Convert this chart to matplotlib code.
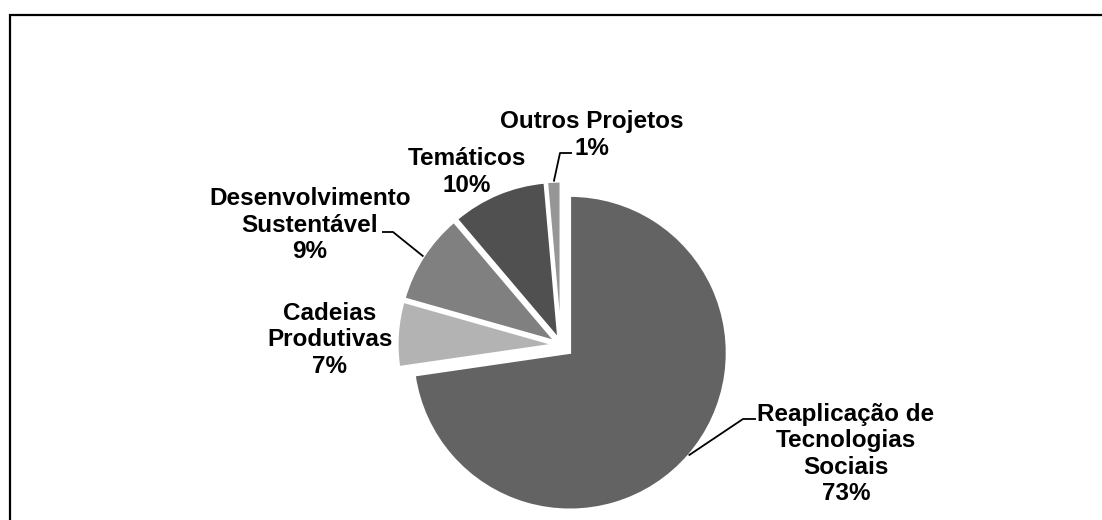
import numpy as np
import matplotlib
matplotlib.use("Agg")
import matplotlib.pyplot as plt
from matplotlib.patches import Rectangle

categories = ["Reaplicação de\nTecnologias\nSociais", "Cadeias\nProdutivas",
              "Desenvolvimento\nSustentável", "Temáticos", "Outros Projetos"]
values = [72.7, 6.7, 9.4, 9.8, 1.4]
colors = ["#636363", "#b3b3b3", "#808080", "#505050", "#969696"]
explode = [0.075, 0.042, 0.042, 0.042, 0.042]

W, H = 1102, 520
CX, CY, R = 561, 345, 157

def d(x, y):
    return ((x - CX) / R, (CY - y) / R)

plt.rcParams['font.family'] = ['Liberation Sans', 'DejaVu Sans']
fig = plt.figure(figsize=(W / 100, H / 100), dpi=100)
ax = fig.add_axes([0, 0, 1, 1])
wedges, _ = ax.pie(values, colors=colors, explode=explode, startangle=90,
                   counterclock=False, radius=1,
                   wedgeprops=dict(edgecolor="white", linewidth=1.7))
ax.set_xlim(-CX / R, (W - CX) / R)
ax.set_ylim(-(H - CY) / R, CY / R)
ax.set_aspect('equal')
ax.axis('off')

# label positions (pixel centres)
label_pos = [(846, 454), (330, 340), (310, 225), (467, 172), (592, 135)]
fs = 17.5
for cat, v, (px, py) in zip(categories, values, label_pos):
    x, y = d(px, py)
    ax.text(x, y, f"{cat}\n{round(v)}%", ha="center", va="center", fontsize=fs,
            fontweight="bold", linespacing=1.17, multialignment="center")

# leader lines: label side -> elbow -> wedge bisector on arc
leaders = {0: [(756, 419), (743, 419)], 2: [(382, 232), (393, 232)],
           4: [(572, 153), (560, 153)]}
for i, pts in leaders.items():
    w = wedges[i]
    mid = np.deg2rad((w.theta1 + w.theta2) / 2)
    cx, cy = w.center
    ex, ey = cx + w.r * np.cos(mid), cy + w.r * np.sin(mid)
    xs = [d(*p)[0] for p in pts] + [ex]
    ys = [d(*p)[1] for p in pts] + [ey]
    ax.plot(xs, ys, color="black", lw=1.3, solid_capstyle="butt")

fig.add_artist(Rectangle((9.5 / W, -0.1), 2, (H - 14.5) / H + 0.1,
                         transform=fig.transFigure, fill=False,
                         edgecolor="black", linewidth=1.6))
fig.savefig("out.png", dpi=100, facecolor="white")
